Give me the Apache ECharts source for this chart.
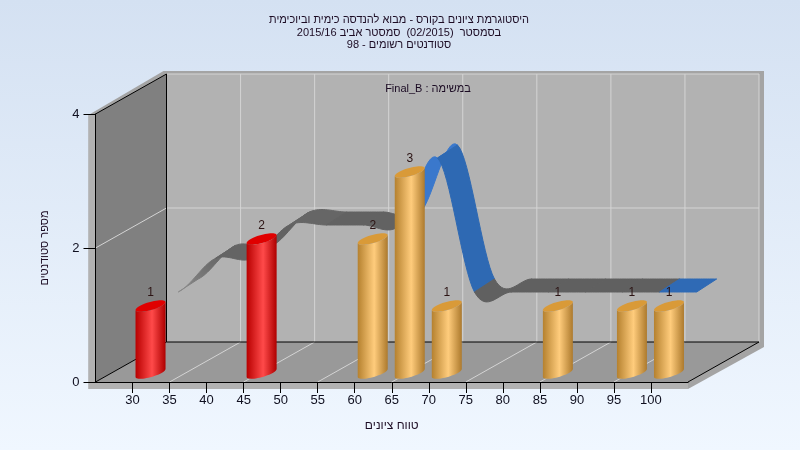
<!DOCTYPE html>
<html><head><meta charset="utf-8">
<style>html,body{margin:0;padding:0;background:#eaf2fd}#c{width:800px;height:450px}</style>
<script src="https://cdn.jsdelivr.net/npm/echarts@6/dist/echarts.min.js"></script>
</head><body><div id="c" dir="rtl"></div>
<script>
const titleLines = ['היסטוגרמת ציונים בקורס - מבוא להנדסה כימית וביוכימית', 'בסמסטר  (02/2015)  סמסטר אביב 2015/16', 'סטודנטים רשומים - 98'];
const taskTitle = 'במשימה : Final_B';
const xName = 'טווח ציונים';
const yName = 'מספר סטודנטים';
const grades = [30, 35, 40, 45, 50, 55, 60, 65, 70, 75, 80, 85, 90, 95, 100];
const counts = [1, 0, 0, 2, 0, 0, 2, 3, 1, 0, 0, 1, 0, 1, 1];
const trend = [1, 1.5, 1.5, 2, 2, 2, 2, 3, 1, 1, 1, 1, 1, 1, 1];
const trendColours = ['#6e6e6e', '#646464', '#626262', '#666666', '#626262', '#626262', '#3a78cc', '#2e69b3', '#606060', '#606060', '#606060', '#606060', '#606060', '#2f6ab5'];
const passMark = 55;

const DX = 71, DY = -40;
const BAR = {dx: 18, dy: -9, ax: 10.9, bx: 10.3, by: 5.8, label: -22.5};
const RIB = {fx: 45.7, fy: -23, bx: 65.7, by: -36};
const G = echarts.graphic;
const poly = (pts, fill, z, stroke) => ({type: 'polygon', z2: z || 0, shape: {points: pts}, style: {fill, stroke: stroke || null, lineWidth: stroke ? 1 : 0}});
const seg = (a, b, stroke, z) => ({type: 'line', z2: z || 1, shape: {x1: a[0], y1: a[1], x2: b[0], y2: b[1]}, style: {stroke, lineWidth: 1}});

function renderRoom(params, api) {
  const c = (x, y, f) => { const p = api.coord([x, y]); const k = f || 0; return [p[0] + DX * k, p[1] + DY * k]; };
  const shift = (p, dx, dy) => [p[0] + dx, p[1] + dy];
  const ch = [];
  ch.push(poly([shift(c(25, 0), -7, 7), shift(c(105, 0), 0, 7), shift(c(105, 0, 1), 5, 5), shift(c(105, 4, 1), 5, -3), shift(c(25, 4, 1), -3, -3), shift(c(25, 4), -7, 1)], '#a4a4a4'));
  ch.push(poly([shift(c(25, 0), -7, 7), shift(c(105, 0), 0, 7), c(105, 0), c(25, 0), c(25, 4), shift(c(25, 4), -7, 1)], '#b2b2b2', 1));
  ch.push(poly([c(25, 0, 1), c(105, 0, 1), c(105, 4, 1), c(25, 4, 1)], '#b2b2b2', 2));
  ch.push(poly([c(25, 0), c(25, 0, 1), c(25, 4, 1), c(25, 4)], '#808080', 2));
  ch.push(poly([c(25, 0), c(105, 0), c(105, 0, 1), c(25, 0, 1)], '#999999', 2));
  for (let x = 35; x < 105; x += 10) {
    ch.push(seg(c(x, 0), c(x, 0, 1), '#d4d4d4', 3));
    ch.push(seg(c(x, 0, 1), c(x, 4, 1), '#d4d4d4', 3));
  }
  ch.push(seg(c(25, 2), c(25, 2, 1), '#d4d4d4', 3));
  ch.push(seg(c(25, 2, 1), c(105, 2, 1), '#d4d4d4', 3));
  ch.push(seg(c(25, 4, 1), c(105, 4, 1), '#d4d4d4', 3));
  ch.push(seg(c(105, 0, 1), c(105, 4, 1), '#d4d4d4', 3));
  ch.push(seg(c(25, 0), c(25, 0, 1), '#000', 4));
  ch.push(seg(c(105, 0), c(105, 0, 1), '#000', 4));
  ch.push(seg(c(25, 0, 1), c(105, 0, 1), '#000', 4));
  ch.push(seg(c(25, 0, 1), c(25, 4, 1), '#000', 4));
  ch.push(seg(c(25, 4), c(25, 4, 1), '#000', 4));
  return {type: 'group', children: ch};
}

function spline(i, t) {
  const n = trend.length;
  const p0 = trend[Math.max(i - 1, 0)], p1 = trend[i], p2 = trend[i + 1], p3 = trend[Math.min(i + 2, n - 1)];
  const m1 = (p2 - p0) / 2, m2 = (p3 - p1) / 2, t2 = t * t, t3 = t2 * t;
  return (2 * t3 - 3 * t2 + 1) * p1 + (t3 - 2 * t2 + t) * m1 + (-2 * t3 + 3 * t2) * p2 + (t3 - t2) * m2;
}
function renderRibbon(params, api) {
  const ch = [];
  for (let i = 0; i < trend.length - 1; i++) {
    const f = [], b = [];
    for (let s = 0; s <= 16; s++) {
      const t = s / 16;
      const p = api.coord([grades[i] + (grades[i + 1] - grades[i]) * t, spline(i, t)]);
      f.push([p[0] + RIB.fx, p[1] + RIB.fy]);
      b.push([p[0] + RIB.bx, p[1] + RIB.by]);
    }
    let fill = trendColours[i];
    if (i === 0) fill = new G.LinearGradient(0, 1, 1, 0, [{offset: 0, color: '#8c8c8c'}, {offset: 0.6, color: '#6c6c6c'}, {offset: 1, color: '#666666'}]);
    ch.push(poly(f.concat(b.reverse()), fill, 5, fill));
  }
  return {type: 'group', children: ch};
}

function ell(cx, cy, t) {
  return [cx + Math.cos(t) * BAR.ax + Math.sin(t) * BAR.bx, cy - Math.sin(t) * BAR.by];
}
function renderBar(params, api) {
  const g = api.value(0), v = api.value(1);
  if (!v) return null;
  const base = api.coord([g, 0]), top = api.coord([g, v]);
  const cx = base[0] + BAR.dx, by = base[1] + BAR.dy, ty = top[1] + BAR.dy;
  const t0 = Math.atan2(BAR.bx, BAR.ax);
  const low = [], up = [], ring = [];
  for (let s = 0; s <= 24; s++) {
    const t = t0 + Math.PI + (Math.PI * s) / 24;
    low.push(ell(cx, by, t));
    up.unshift(ell(cx, ty, t));
  }
  for (let s = 0; s < 48; s++) ring.push(ell(cx, ty, (2 * Math.PI * s) / 48));
  const red = g < passMark;
  const body = new G.LinearGradient(0, 0, 1, 0, red
    ? [{offset: 0, color: '#b80000'}, {offset: 0.55, color: '#ff4a4a'}, {offset: 1, color: '#ae0000'}]
    : [{offset: 0, color: '#b5812f'}, {offset: 0.55, color: '#ffcc7c'}, {offset: 1, color: '#ad7a2d'}]);
  return {type: 'group', children: [
    poly(low.concat(up), body, 10),
    poly(ring, red ? '#e00000' : '#d99a38', 11),
    {type: 'text', z2: 12, x: cx, y: top[1] + BAR.label, style: {text: String(v), fill: '#2c1414', font: '12px "Liberation Sans"', align: 'center', verticalAlign: 'middle'}}
  ]};
}

const chart = echarts.init(document.getElementById('c'), null, {renderer: 'canvas'});
chart.setOption({
  animation: false,
  backgroundColor: new G.LinearGradient(0, 0, 0, 1, [{offset: 0, color: '#d4e1f2'}, {offset: 1, color: '#f0f7ff'}]),
  title: [
    {text: titleLines.join('\n'), left: 394, top: 9, textAlign: 'center', textStyle: {fontFamily: 'Liberation Sans', fontSize: 11, fontWeight: 'normal', color: '#1c0c24', lineHeight: 12.5}},
    {text: taskTitle, left: 423, top: 77, textAlign: 'center', textStyle: {fontFamily: 'Liberation Sans', fontSize: 11, fontWeight: 'normal', color: '#1c0c24', lineHeight: 13}}
  ],
  grid: {left: 95.5, right: 112, top: 114, bottom: 68},
  xAxis: {type: 'value', min: 25, max: 105, interval: 5, z: 6, name: xName, nameLocation: 'middle', nameGap: 38,
    nameTextStyle: {fontFamily: 'Liberation Sans', fontSize: 12, color: '#1c0c24'},
    axisLine: {onZero: false, lineStyle: {color: '#000', width: 1}},
    axisTick: {length: 11, lineStyle: {color: '#000'}},
    axisLabel: {margin: 12, fontFamily: 'Liberation Sans', fontSize: 13, color: '#101020', showMinLabel: false, showMaxLabel: false,
      formatter: v => (v === 25 || v === 105) ? '' : String(v)},
    splitLine: {show: false}},
  yAxis: {type: 'value', min: 0, max: 4, interval: 2, z: 6, name: yName, nameLocation: 'middle', nameGap: 45, nameRotate: 90,
    nameTextStyle: {fontFamily: 'Liberation Sans', fontSize: 11, color: '#1c0c24'},
    axisLine: {show: true, lineStyle: {color: '#000', width: 1}},
    axisTick: {show: true, length: 12, lineStyle: {color: '#000'}},
    axisLabel: {margin: 16, fontFamily: 'Liberation Sans', fontSize: 13, color: '#101020'},
    splitLine: {show: false}},
  series: [
    {type: 'custom', z: 1, silent: true, clip: false, renderItem: renderRoom, data: [[25, 0]], encode: {x: 0, y: 1}},
    {type: 'custom', z: 2, silent: true, clip: false, renderItem: renderRibbon, data: [[30, 1]], encode: {x: 0, y: 1}},
    {type: 'custom', z: 3, silent: true, clip: false, renderItem: renderBar, data: grades.map((g, i) => [g, counts[i]]), encode: {x: 0, y: 1}}
  ]
});
</script></body></html>
